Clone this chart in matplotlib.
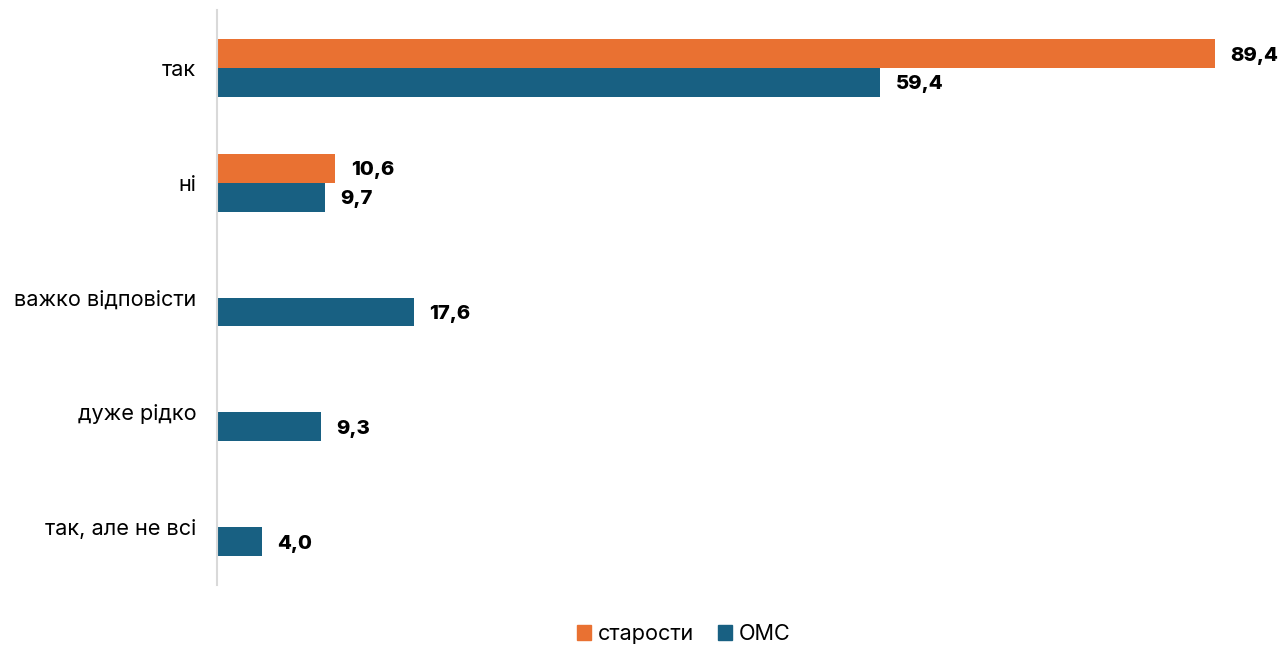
import matplotlib
matplotlib.use("Agg")
import matplotlib.pyplot as plt
import numpy as np
from matplotlib.patches import Patch

categories = ["так", "ні", "важко відповісти", "дуже рідко", "так, але не всі"]
series_names = ["старости", "ОМС"]
starosty = [89.4, 10.6, None, None, None]
oms = [59.4, 9.7, 17.6, 9.3, 4.0]
colors = ["#E97132", "#186082"]

plt.rcParams['font.family'] = ['Inter', 'DejaVu Sans']

fig = plt.figure(figsize=(12.86, 6.46), dpi=100)
ax = fig.add_axes([217/1286, 1 - 584.5/646, (1270-217)/1286, (584.5-10.5)/646])

h = 0.252
y = np.arange(len(categories))
for vals, off, col in [(starosty, -h/2, colors[0]), (oms, h/2, colors[1])]:
    for i, v in enumerate(vals):
        if v is None:
            continue
        ax.barh(y[i] + off, v, height=h, color=col, edgecolor='none')
        ax.annotate(f"{v:.1f}".replace('.', ','), xy=(v, y[i] + off), xytext=(11, -1.5),
                    textcoords='offset points', va='center', ha='left',
                    fontsize=14.6, fontweight='heavy', color='black')

ax.set_xlim(0, 94.3)
ax.set_ylim(len(categories) - 0.5, -0.5)
ax.set_yticks(y)
ax.set_yticklabels(categories, fontsize=15.6)
ax.tick_params(axis='y', length=0, pad=15)
ax.set_xticks([])
for s in ['top', 'right', 'bottom']:
    ax.spines[s].set_visible(False)
ax.spines['left'].set_color('#D9D9D9')
ax.spines['left'].set_linewidth(1.5)

handles = [Patch(color=colors[0], label=series_names[0]), Patch(color=colors[1], label=series_names[1])]
fig.legend(handles=handles, loc='center', bbox_to_anchor=(684/1286, 1 - 634/646), ncol=2,
           frameon=False, fontsize=15.6, handlelength=0.65, handleheight=0.65,
           handletextpad=0.3, columnspacing=1.12)

fig.savefig("out.png", dpi=100)
